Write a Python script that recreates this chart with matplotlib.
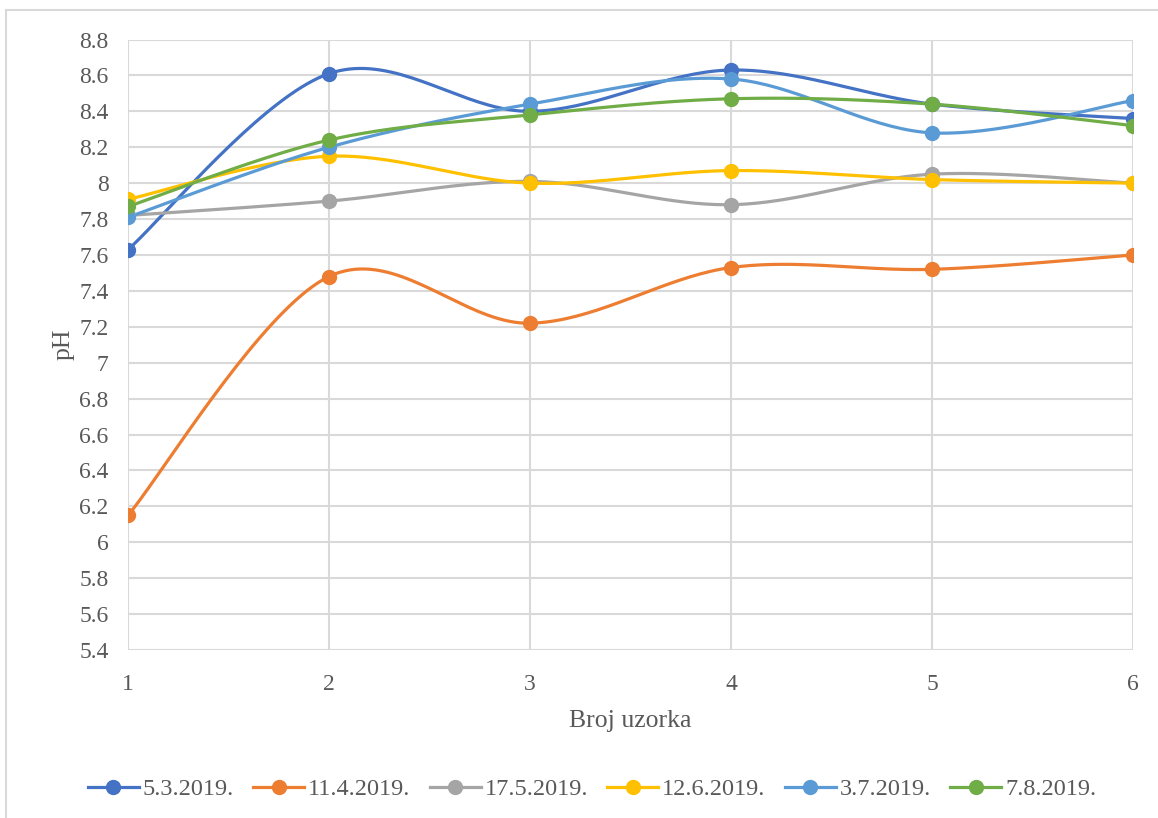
import numpy as np
import matplotlib
matplotlib.use("Agg")
import matplotlib.pyplot as plt
from matplotlib.lines import Line2D

# sample numbers and pH readings per sampling date
samples = [1, 2, 3, 4, 5, 6]
dates = ["5.3.2019.", "11.4.2019.", "17.5.2019.", "12.6.2019.", "3.7.2019.", "7.8.2019."]
ph_0503 = [7.63, 8.61, 8.40, 8.63, 8.44, 8.36]
ph_1104 = [6.15, 7.48, 7.22, 7.53, 7.52, 7.60]
ph_1705 = [7.82, 7.90, 8.01, 7.88, 8.05, 8.00]
ph_1206 = [7.91, 8.15, 8.00, 8.07, 8.02, 8.00]
ph_0307 = [7.81, 8.20, 8.44, 8.58, 8.28, 8.46]
ph_0708 = [7.87, 8.24, 8.38, 8.47, 8.44, 8.32]
colors = ["#4472C4", "#ED7D31", "#A5A5A5", "#FFC000", "#5B9BD5", "#70AD47"]
yticks = [5.4, 5.6, 5.8, 6, 6.2, 6.4, 6.6, 6.8, 7, 7.2, 7.4, 7.6, 7.8, 8, 8.2, 8.4, 8.6, 8.8]


def smooth(xs, ys, n=40):
    # Excel style smoothed line (Catmull-Rom drawn as cubic Bezier)
    p = np.column_stack([xs, ys]).astype(float)
    p = np.vstack([p[0], p, p[-1]])
    out = []
    t = np.linspace(0, 1, n)[:, None]
    for i in range(1, len(p) - 2):
        a = p[i]
        d = p[i + 1]
        b = a + (p[i + 1] - p[i - 1]) / 6
        c = d - (p[i + 2] - p[i]) / 6
        seg = (1 - t) ** 3 * a + 3 * (1 - t) ** 2 * t * b + 3 * (1 - t) * t ** 2 * c + t ** 3 * d
        out.append(seg)
    out = np.vstack(out)
    return out[:, 0], out[:, 1]


plt.rcParams["font.family"] = ["Liberation Serif", "DejaVu Serif"]
fig = plt.figure(figsize=(11.58, 8.18), dpi=100)
ax = fig.add_axes([128 / 1158, 1 - 650 / 818, 1005 / 1158, 610.5 / 818])

series = [ph_0503, ph_1104, ph_1705, ph_1206, ph_0307, ph_0708]
handles = []
for vals, col, lab in zip(series, colors, dates):
    sx, sy = smooth(samples, vals)
    ax.plot(sx, sy, color=col, lw=2.3, solid_capstyle="round", zorder=3)
    ax.plot(samples, vals, "o", color=col, ms=10, zorder=4)
    handles.append(Line2D([], [], color=col, lw=2.3, marker="o", ms=10, label=lab))

ax.set_xlim(1, 6)
ax.set_ylim(5.4, 8.8)
ax.set_xticks(samples)
ax.set_yticks(yticks)
ax.set_yticklabels([f"{v:g}" for v in yticks])
ax.grid(True, color="#D9D9D9", lw=1.5, zorder=0)
for s in ax.spines.values():
    s.set_visible(False)
ax.tick_params(length=0, labelsize=17, colors="#595959", pad=14)
ax.tick_params(axis="x", pad=17)
ax.set_axisbelow(True)

ax.set_xlabel("Broj uzorka", fontsize=18.5, color="#595959", labelpad=11)
ax.set_ylabel("pH", fontsize=18.5, color="#595959", labelpad=3)

fig.legend(handles=handles, loc="center", bbox_to_anchor=(592 / 1158, 1 - 789 / 818),
           ncol=6, frameon=False, fontsize=17.5, handlelength=2.1, handletextpad=0.15,
           columnspacing=0.8, labelcolor="#595959")

# chart border (cut at right and bottom in the source)
fig.add_artist(Line2D([6 / 1158, 6 / 1158], [0, 1 - 10 / 818], color="#D9D9D9", lw=1.5))
fig.add_artist(Line2D([6 / 1158, 1], [1 - 10 / 818, 1 - 10 / 818], color="#D9D9D9", lw=1.5))

fig.savefig("out.png", dpi=100)
